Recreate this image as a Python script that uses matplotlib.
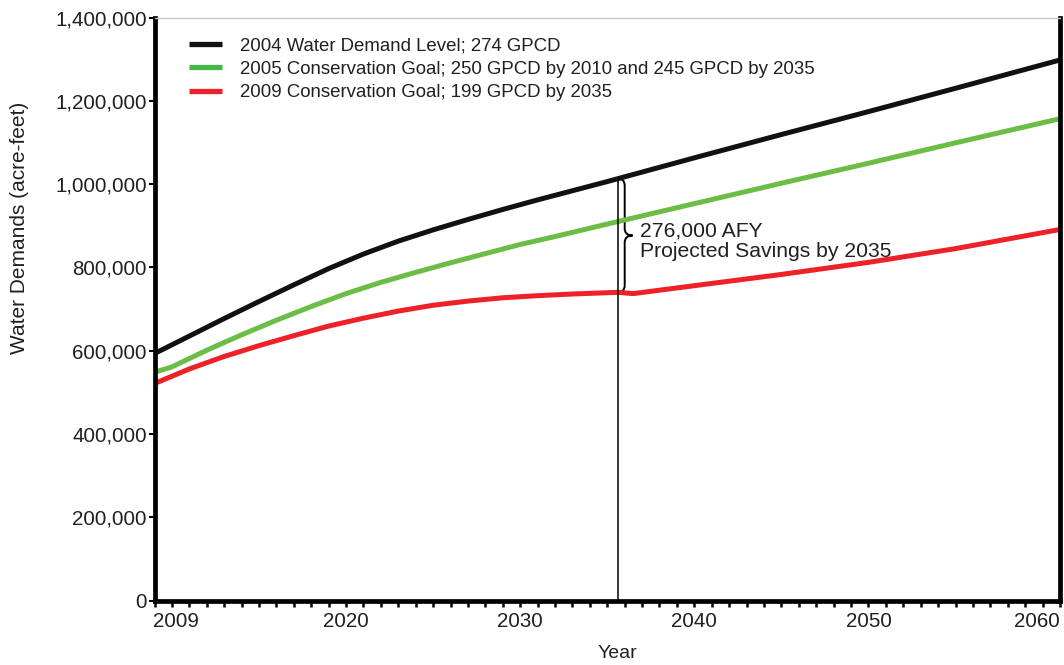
import matplotlib
matplotlib.use('Agg')
import matplotlib.pyplot as plt
from matplotlib.path import Path
from matplotlib.patches import PathPatch
from matplotlib.ticker import FixedLocator, FuncFormatter
from matplotlib.transforms import ScaledTranslation

plt.rcParams['font.family'] = ['Liberation Sans', 'DejaVu Sans']

# ---------------- data ----------------
black_years = [2009, 2011, 2013, 2015, 2017, 2019, 2021, 2023, 2025, 2027, 2029, 2031, 2033,
               2035, 2040, 2045, 2050, 2055, 2061]
black_vals = [593000, 635000, 677000, 718000, 758000, 797000, 832000, 863000, 890000, 915000,
              939000, 962000, 984000, 1006000, 1063000, 1119000, 1174000, 1230000, 1298000]

green_years = [2009, 2010, 2012, 2014, 2016, 2018, 2020, 2022, 2024, 2026, 2028, 2030, 2032,
               2035, 2040, 2045, 2050, 2055, 2061]
green_vals = [548000, 561000, 601000, 638000, 673000, 706000, 737000, 764000, 788000, 811000,
              833000, 855000, 874000, 904000, 953000, 1002000, 1050000, 1099000, 1157000]

red_years = [2009, 2011, 2013, 2015, 2017, 2019, 2021, 2023, 2025, 2027, 2029, 2031, 2033,
             2035.6, 2036.5, 2040, 2045, 2050, 2055, 2061]
red_vals = [521000, 556000, 586000, 612000, 636000, 659000, 678000, 695000, 709000, 719000,
            727000, 732000, 736000, 740000, 737000, 756000, 783000, 812000, 845000, 891000]

labels = ['2004 Water Demand Level; 274 GPCD',
          '2005 Conservation Goal; 250 GPCD by 2010 and 245 GPCD by 2035',
          '2009 Conservation Goal; 199 GPCD by 2035']
colors = ['#111111', '#6bbd45', '#ee2128']
legend_colors = ['#111111', '#45b649', '#ee2128']

x_ticks = [2009, 2020, 2030, 2040, 2050, 2060]
y_ticks = [0, 200000, 400000, 600000, 800000, 1000000, 1200000, 1400000]

savings_year = 2035.6
savings_top = 1013000
savings_bottom = 740000
savings_text1 = '276,000 AFY'
savings_text2 = 'Projected Savings by 2035'

# ---------------- figure ----------------
W, H = 1064, 665
fig = plt.figure(figsize=(W / 100, H / 100), dpi=100)
axL, axR, axT, axB = 154.5, 1060, 17.5, 600.5
ax = fig.add_axes([axL / W, 1 - axB / H, (axR - axL) / W, (axB - axT) / H])

txt = '#231f20'
for yrs, vals, c, lab in zip([black_years, green_years, red_years],
                             [black_vals, green_vals, red_vals], colors, labels):
    ax.plot(yrs, vals, color=c, lw=3.6, solid_capstyle='butt', solid_joinstyle='round', label=lab)

ax.set_xlim(2009, 2061)
ax.set_ylim(0, 1400000)

ax.xaxis.set_major_locator(FixedLocator(x_ticks))
ax.xaxis.set_minor_locator(FixedLocator(list(range(2009, 2062))))
ax.yaxis.set_major_locator(FixedLocator(y_ticks))
ax.yaxis.set_major_formatter(FuncFormatter(lambda v, p: f'{int(v):,}'))

ax.tick_params(axis='x', which='both', direction='out', length=4, width=1.8,
               color='black', pad=4, labelsize=14.8, labelcolor=txt)
ax.tick_params(axis='y', which='major', direction='out', length=4, width=1.5,
               color='black', pad=1.5, labelsize=14.8, labelcolor=txt)

for s in ['left', 'bottom', 'right']:
    ax.spines[s].set_linewidth(3.4)
    ax.spines[s].set_color('black')
ax.spines['top'].set_linewidth(1.0)
ax.spines['top'].set_color('#c7c8ca')

# shift end tick labels to fit inside axes
fig.canvas.draw()
xlabs = ax.get_xticklabels()
xlabs[0].set_transform(xlabs[0].get_transform() + ScaledTranslation(21.5 / 100, 0, fig.dpi_scale_trans))
xlabs[-1].set_transform(xlabs[-1].get_transform() + ScaledTranslation(-5.5 / 100, 0, fig.dpi_scale_trans))

# vertical savings line
ax.plot([savings_year, savings_year], [0, savings_top], color='black', lw=1.1)

# brace
px_per_year = (axR - axL) / (2061 - 2009)
px_per_val = (axB - axT) / 1400000
h = (savings_top - savings_bottom) * px_per_val
pts_px = [(0, 0), (7, 0), (7, 7),
          (7, h / 2 - 7), (7, h / 2), (15, h / 2),
          (7, h / 2), (7, h / 2 + 7),
          (7, h - 7), (7, h), (0, h)]
codes = [Path.MOVETO, Path.CURVE3, Path.CURVE3,
         Path.LINETO, Path.CURVE3, Path.CURVE3,
         Path.CURVE3, Path.CURVE3,
         Path.LINETO, Path.CURVE3, Path.CURVE3]
verts = [(savings_year + dx / px_per_year, savings_top - dy / px_per_val) for dx, dy in pts_px]
ax.add_patch(PathPatch(Path(verts, codes), fill=False, lw=1.4, edgecolor='black'))

tx = savings_year + 22 / px_per_year
ax.text(tx, savings_top - (236 - 178) / px_per_val, savings_text1, fontsize=15.2,
        color=txt, ha='left', va='baseline')
ax.text(tx, savings_top - (256 - 178) / px_per_val, savings_text2, fontsize=15.2,
        color=txt, ha='left', va='baseline')

# legend
leg = ax.legend(loc='upper left', bbox_to_anchor=(189 / W, 1 - 37 / H),
                bbox_transform=fig.transFigure, frameon=False, fontsize=13.4,
                handlelength=1.75, handletextpad=1.0, labelspacing=0.36,
                borderpad=0, borderaxespad=0)
for t in leg.get_texts():
    t.set_color(txt)
for l, c in zip(leg.get_lines(), legend_colors):
    l.set_linewidth(3.8)
    l.set_color(c)

fig.text(20 / W, 1 - 227.5 / H, 'Water Demands (acre-feet)', rotation=90,
         ha='center', va='center', fontsize=15, color=txt)
fig.text(617 / W, 1 - 653 / H, 'Year', ha='center', va='center', fontsize=14, color=txt)

fig.savefig('out.png', dpi=100)
